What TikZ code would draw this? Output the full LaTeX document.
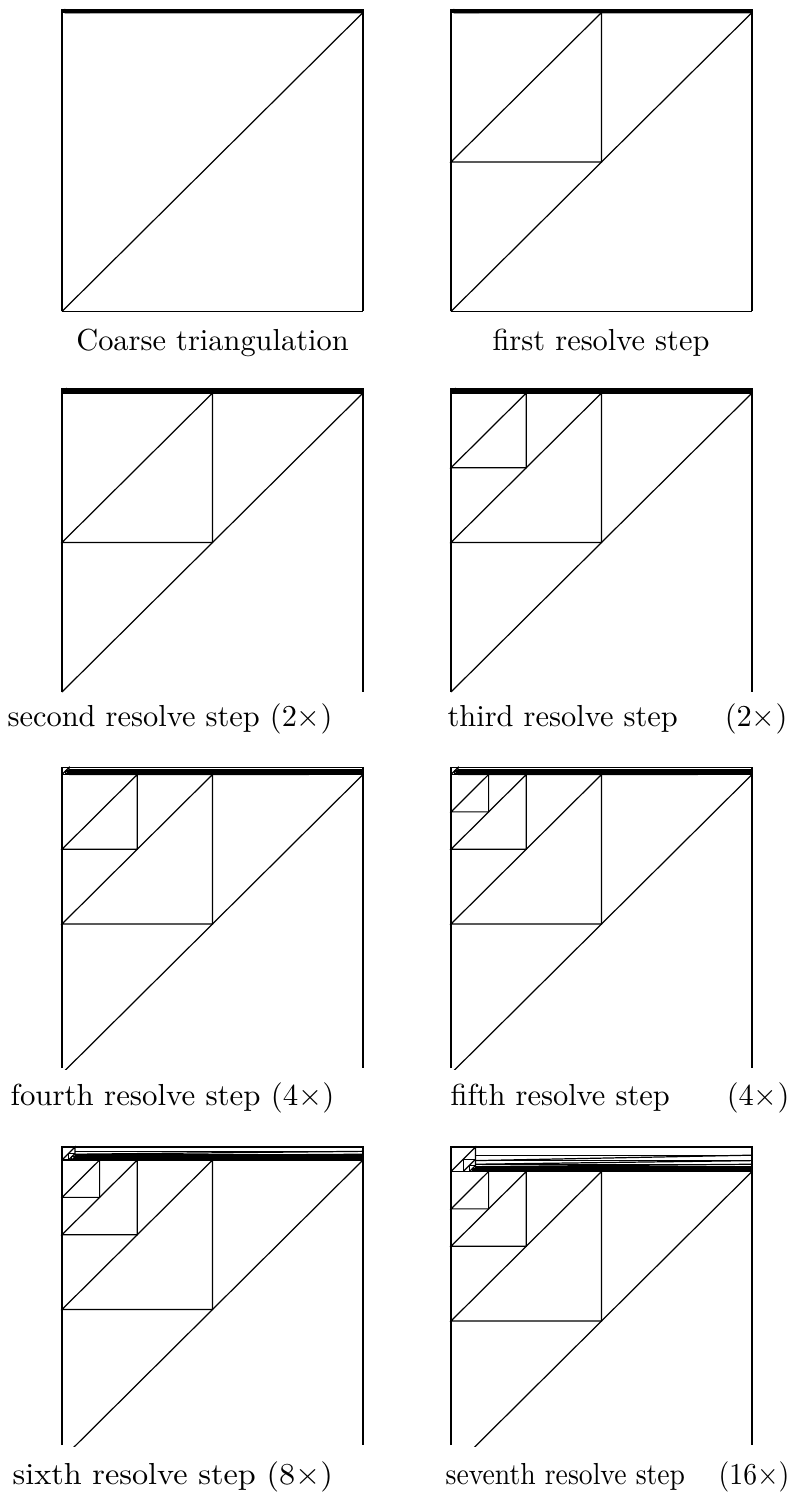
\documentclass[tikz,border=0pt]{standalone}
\begin{document}
\begin{tikzpicture}[x=0.3289pt,y=-0.3289pt,
  mesh/.style={line width=0.4pt,black},
  captext/.style={inner sep=0pt,font=\normalsize}]
\useasboundingbox (0,0) rectangle (798,1500);

% #1 left x, #2 top y, #3 layer height, #4 lower cut, #5 draw bottom edge (1/0)
\newcommand\meshpanel[5]{%
\begin{scope}
\clip (#1-3,#2-3) rectangle (#1+304,#4+1);
\draw[mesh] (#1,#4) -- (#1,#2) -- (#1+301,#2) -- (#1+301,#4);
\ifnum#5=1 \draw[mesh] (#1,#4) -- (#1+301,#4);\fi
% long diagonal of the coarse square
\draw[mesh] (#1,#2+#3+299) -- (#1+301,#2+#3);
% lower boundary of the thin layer
\draw[mesh] (#1,#2+#3) -- (#1+301,#2+#3);
% corner cell of the layer, with nested cells towards its lower right
\draw[mesh] (#1,#2+#3) -- (#1+#3,#2) -- (#1+#3,#2+#3);
\foreach \k in {1,...,6}{%
  \pgfmathsetmacro\lf{#3*(1-0.5^\k)}
  \draw[mesh] (#1+\lf,#2+#3) -- (#1+\lf,#2+\lf) -- (#1+#3,#2+\lf);
  \draw[mesh] (#1+\lf,#2+#3) -- (#1+#3,#2+\lf);
}
% long thin cells of the layer
\foreach \k in {1,...,10}{%
  \pgfmathsetmacro\lf{#3*(1-0.667^\k)}
  \pgfmathsetmacro\lg{#3*(1-0.667^(\k+1))}
  \draw[mesh] (#1+#3,#2+\lf) -- (#1+301,#2+\lf);
  \draw[mesh] (#1+#3,#2+\lg) -- (#1+301,#2+\lf);
}
% the thinnest cells merge into a solid band
\pgfmathsetmacro\bandtop{#2+#3-min(#3,5)}
\fill (#1+#3,\bandtop) rectangle (#1+301,#2+#3);
\end{scope}}

% #1 left x, #2 top of the coarse square, #3 list of refinement levels
\newcommand\refine[3]{%
\foreach \j in {#3}{%
  \pgfmathsetmacro\rs{301*0.5^\j}
  \pgfmathsetmacro\rh{299*0.5^\j}
  \draw[mesh] (#1+\rs,#2) -- (#1+\rs,#2+\rh) -- (#1,#2+\rh) -- (#1+\rs,#2);
}}

% row 1
\meshpanel{62}{10}{2.5}{311.5}{1}
\meshpanel{451}{10}{2.5}{311.5}{1}
\refine{451}{12.5}{1}
\node[captext,anchor=base] (c1) at (212.5,350) {Coarse triangulation};
\node[captext,anchor=base] (c2) at (601,350) {first resolve step};

% row 2
\meshpanel{62}{389}{4}{692}{0}
\refine{62}{393}{1}
\meshpanel{451}{389}{4}{692}{0}
\refine{451}{393}{1,2}
\node[captext,anchor=base west] (c3a) at (7,726) {second resolve step (2$\times$)};
\node[captext,anchor=base west] (c4a) at (447,726) {third resolve step};
\node[captext,anchor=base east] (c4b) at (788,726) {(2$\times$)};

% row 3
\meshpanel{62}{767.5}{7}{1068}{0}
\refine{62}{774.5}{1,2}
\meshpanel{451}{767.5}{7}{1068}{0}
\refine{451}{774.5}{1,2,3}
\node[captext,anchor=base west] (c5a) at (10,1105) {\scalebox{1.015}[1]{fourth resolve step (4$\times$)}};
\node[captext,anchor=base west] (c6a) at (450,1105) {fifth resolve step};
\node[captext,anchor=base east] (c6b) at (790,1105) {(4$\times$)};

% row 4
\meshpanel{62}{1147}{13}{1445}{0}
\refine{62}{1160}{1,2,3}
\meshpanel{451}{1147}{24.5}{1445}{0}
\refine{451}{1171.5}{1,2,3}
\node[captext,anchor=base west] (c7a) at (12,1484) {\scalebox{1.06}[1]{sixth resolve step (8$\times$)}};
\node[captext,anchor=base west] (c8a) at (445,1484) {\scalebox{0.91}[1]{seventh resolve step}};
\node[captext,anchor=base east] (c8b) at (790,1484) {\scalebox{0.91}[1]{(16$\times$)}};
\end{tikzpicture}
\end{document}
